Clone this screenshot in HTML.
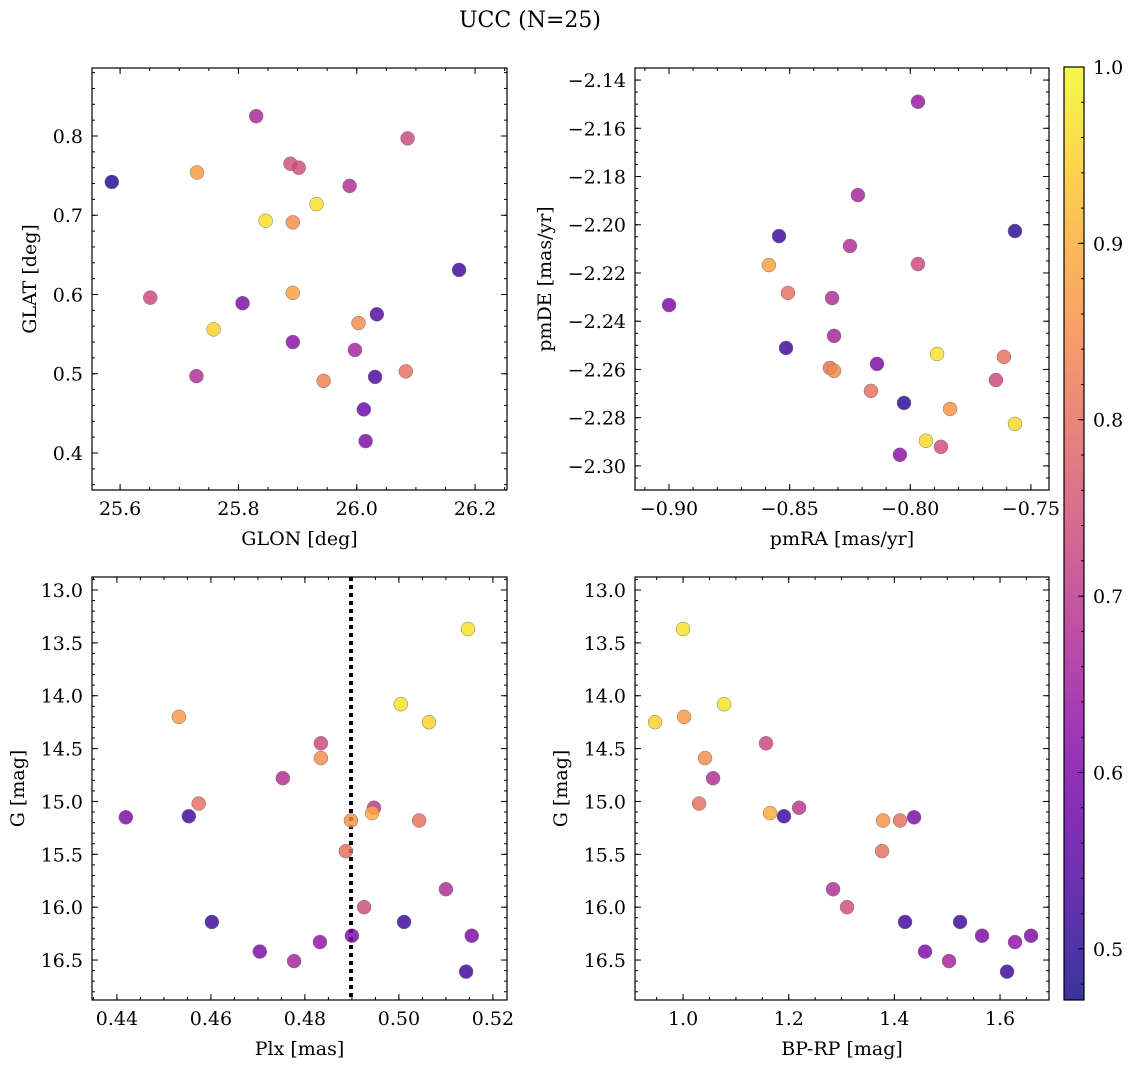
<!DOCTYPE html>
<html><head><meta charset="utf-8">
<style>
body{margin:0;background:#fff;}
svg{display:block;font-family:"DejaVu Serif","Liberation Serif",serif;}
</style></head>
<body>
<svg id="fig" width="1136" height="1067" viewBox="0 0 1136 1067" xmlns="http://www.w3.org/2000/svg">
<text x="530" y="27" font-size="22" text-anchor="middle">UCC (N=25)</text>
</svg>
<script>
// Panel 1: GLON / GLAT
const p1x=[25.830,26.086,25.888,25.902,25.730,25.586,25.988,25.932,25.846,25.892,26.173,25.651,25.892,25.807,25.758,26.034,26.003,25.892,25.997,25.729,25.944,26.083,26.031,26.012,26.015];
const p1y=[0.825,0.797,0.765,0.760,0.754,0.742,0.737,0.714,0.693,0.691,0.631,0.596,0.602,0.589,0.556,0.575,0.564,0.540,0.530,0.497,0.491,0.503,0.496,0.455,0.415];
const p1c=[0.67,0.73,0.75,0.74,0.87,0.49,0.68,0.97,0.97,0.85,0.52,0.73,0.88,0.6,0.95,0.55,0.85,0.62,0.66,0.68,0.83,0.8,0.53,0.58,0.6];
// Panel 2: pmRA / pmDE
const p2x=[-0.7968,-0.8217,-0.8544,-0.7566,-0.8250,-0.8586,-0.7968,-0.8507,-0.8324,-0.9000,-0.8316,-0.8515,-0.7889,-0.7612,-0.8138,-0.8333,-0.8316,-0.7645,-0.8163,-0.8026,-0.7835,-0.7566,-0.7935,-0.8043,-0.7873];
const p2y=[-2.149,-2.1877,-2.2047,-2.2026,-2.2088,-2.2167,-2.2163,-2.2283,-2.2304,-2.2333,-2.2461,-2.2511,-2.2536,-2.2548,-2.2577,-2.2594,-2.2606,-2.2644,-2.2689,-2.2739,-2.2764,-2.2826,-2.2896,-2.2954,-2.2921];
const p2c=[0.64,0.66,0.52,0.5,0.68,0.88,0.73,0.8,0.68,0.6,0.66,0.52,0.97,0.8,0.6,0.8,0.85,0.73,0.8,0.5,0.86,0.96,0.96,0.62,0.74];
// Panel 3: Plx / G
const p3x=[0.5147,0.4532,0.5004,0.5064,0.4834,0.4834,0.4753,0.4574,0.4947,0.4419,0.4553,0.4943,0.4898,0.5043,0.4887,0.5100,0.4926,0.4602,0.5011,0.5155,0.4900,0.4832,0.4704,0.4777,0.5143];
const p3y=[13.369,14.20,14.08,14.25,14.45,14.59,14.78,15.02,15.06,15.15,15.14,15.11,15.18,15.18,15.47,15.83,16.00,16.14,16.14,16.27,16.27,16.33,16.42,16.51,16.61];
const p3c=[0.97,0.87,0.97,0.95,0.73,0.85,0.68,0.8,0.7,0.6,0.52,0.9,0.86,0.8,0.8,0.68,0.74,0.52,0.52,0.6,0.6,0.63,0.6,0.66,0.52];
const plxLine=0.4898;
// Panel 4: BP-RP / G
const p4x=[1.0,0.947,1.002,1.0776,1.0416,1.157,1.0568,1.0303,1.1647,1.191,1.2196,1.3786,1.4108,1.4373,1.3767,1.2839,1.3104,1.4202,1.5243,1.566,1.6587,1.6284,1.458,1.5035,1.6133];
const p4y=[13.369,14.25,14.20,14.08,14.59,14.45,14.78,15.02,15.11,15.14,15.06,15.18,15.18,15.15,15.47,15.83,16.00,16.14,16.14,16.27,16.27,16.33,16.42,16.51,16.61];
const p4c=[0.97,0.95,0.87,0.97,0.85,0.73,0.68,0.8,0.9,0.52,0.7,0.86,0.8,0.6,0.8,0.68,0.74,0.52,0.52,0.6,0.6,0.63,0.6,0.66,0.52];
const cbTicks=[0.5,0.6,0.7,0.8,0.9,1.0];

const NS="http://www.w3.org/2000/svg";
const svg=document.getElementById('fig');
const FS=19;
function mk(tag,attrs,parent){const e=document.createElementNS(NS,tag);for(const k in attrs)e.setAttribute(k,attrs[k]);(parent||svg).appendChild(e);return e;}
const stops=[[13,8,135],[65,4,157],[106,0,168],[143,13,164],[177,42,144],[204,71,120],[225,100,98],[242,132,75],[252,166,54],[252,206,37],[240,249,33]];
const CMIN=0.471,CMAX=1.0;
function cmap(v){let t=(v-CMIN)/(CMAX-CMIN);t=Math.max(0,Math.min(1,t));const f=t*10,i=Math.min(9,Math.floor(f)),r=f-i;const a=stops[i],b=stops[i+1];return `rgb(${Math.round(a[0]+(b[0]-a[0])*r)},${Math.round(a[1]+(b[1]-a[1])*r)},${Math.round(a[2]+(b[2]-a[2])*r)})`;}
function fmt(v,d){let s=v.toFixed(d);if(v<0)s='\u2212'+(-v).toFixed(d);return s;}

function panel(o){
  const g=mk('g',{});
  
  
  const sx=v=>o.L+(v-o.x0)/(o.x1-o.x0)*(o.R-o.L);
  const sy=v=>o.inv? o.T+(v-o.y0)/(o.y1-o.y0)*(o.B-o.T) : o.B-(v-o.y0)/(o.y1-o.y0)*(o.B-o.T);
  const tg=mk('g',{stroke:'#000','stroke-width':1},g);
  for(let v=Math.ceil(o.x0/o.xmi-1e-6)*o.xmi;v<=o.x1+1e-9;v+=o.xmi){const x=sx(v);mk('line',{x1:x,x2:x,y1:o.B,y2:o.B-3},tg);mk('line',{x1:x,x2:x,y1:o.T,y2:o.T+3},tg);}
  for(let v=Math.ceil(o.y0/o.ymi-1e-6)*o.ymi;v<=o.y1+1e-9;v+=o.ymi){const y=sy(v);mk('line',{x1:o.L,x2:o.L+3,y1:y,y2:y},tg);mk('line',{x1:o.R,x2:o.R-3,y1:y,y2:y},tg);}
  o.xt.forEach(v=>{const x=sx(v);mk('line',{x1:x,x2:x,y1:o.B,y2:o.B-6},tg);mk('line',{x1:x,x2:x,y1:o.T,y2:o.T+6},tg);
    const t=mk('text',{x:x,y:o.B+25,'font-size':FS,'text-anchor':'middle'},g);t.textContent=fmt(v,o.xd);
    });
  o.yt.forEach(v=>{const y=sy(v);mk('line',{x1:o.L,x2:o.L+6,y1:y,y2:y},tg);mk('line',{x1:o.R,x2:o.R-6,y1:y,y2:y},tg);
    const t=mk('text',{x:o.L-9,y:y+7,'font-size':FS,'text-anchor':'end'},g);t.textContent=fmt(v,o.yd);
    });
  if(o.vline!==undefined){const l=mk('line',{x1:sx(o.vline),x2:sx(o.vline),y1:o.T,y2:o.B,stroke:'#000','stroke-width':4,'stroke-dasharray':'4,4'},g);
    }
  o.xs.forEach((v,i)=>{const c=mk('circle',{cx:sx(v),cy:sy(o.ys[i]),r:7,fill:cmap(o.cs[i]),'fill-opacity':0.82,stroke:'#777','stroke-width':0.5},g);
    });
  const fr=mk('rect',{x:o.L,y:o.T,width:o.R-o.L,height:o.B-o.T,fill:'none',stroke:'#000','stroke-width':1.2},g);
  
  const xl=mk('text',{x:(o.L+o.R)/2,y:o.B+55,'font-size':FS,'text-anchor':'middle'},g);xl.textContent=o.xl;
  
  const yx=o.ylx, yy=(o.T+o.B)/2;
  const yl=mk('text',{x:yx,y:yy,'font-size':FS,'text-anchor':'middle',transform:`rotate(-90 ${yx} ${yy})`},g);yl.textContent=o.yl;
  
}
panel({name:'glon-glat-panel',L:92,R:507,T:68,B:490,x0:25.5525,x1:26.254,y0:0.3533,y1:0.8858,xt:[25.6,25.8,26.0,26.2],xd:1,yt:[0.4,0.5,0.6,0.7,0.8],yd:1,xmi:0.05,ymi:0.02,xs:p1x,ys:p1y,cs:p1c,xl:'GLON [deg]',yl:'GLAT [deg]',ylx:36});
panel({name:'pm-panel',L:635,R:1049,T:68,B:490,x0:-0.9141,x1:-0.7425,y0:-2.310,y1:-2.135,xt:[-0.90,-0.85,-0.80,-0.75],xd:2,yt:[-2.30,-2.28,-2.26,-2.24,-2.22,-2.20,-2.18,-2.16,-2.14],yd:2,xmi:0.01,ymi:0.005,xs:p2x,ys:p2y,cs:p2c,xl:'pmRA [mas/yr]',yl:'pmDE [mas/yr]',ylx:551});
panel({name:'plx-g-panel',L:92,R:507,T:577,B:1000,x0:0.4347,x1:0.523,y0:12.877,y1:16.878,inv:true,xt:[0.44,0.46,0.48,0.50,0.52],xd:2,yt:[13.0,13.5,14.0,14.5,15.0,15.5,16.0,16.5],yd:1,xmi:0.005,ymi:0.1,xs:p3x,ys:p3y,cs:p3c,xl:'Plx [mas]',yl:'G [mag]',ylx:24,vline:plxLine});
panel({name:'cmd-panel',L:635,R:1049,T:577,B:1000,x0:0.909,x1:1.6927,y0:12.877,y1:16.878,inv:true,xt:[1.0,1.2,1.4,1.6],xd:1,yt:[13.0,13.5,14.0,14.5,15.0,15.5,16.0,16.5],yd:1,xmi:0.05,ymi:0.1,xs:p4x,ys:p4y,cs:p4c,xl:'BP-RP [mag]',yl:'G [mag]',ylx:567});

(function(){
  const L=1064,R=1084,T=67,B=1000;
  const g=mk('g',{});
  
  
  const defs=mk('defs',{},g);
  const lg=mk('linearGradient',{id:'cbg',x1:0,y1:1,x2:0,y2:0},defs);
  for(let i=0;i<=20;i++){const v=CMIN+(CMAX-CMIN)*i/20;mk('stop',{offset:(i/20),'stop-color':cmap(v)},lg);}
  mk('rect',{x:L,y:T,width:R-L,height:B-T,fill:'url(#cbg)','fill-opacity':0.82},g);
  const sy=v=>B-(v-CMIN)/(CMAX-CMIN)*(B-T);
  for(let v=0.48;v<=1.0001;v+=0.02){const y=sy(v);mk('line',{x1:R,x2:R-3,y1:y,y2:y,stroke:'#000'},g);}
  cbTicks.forEach(v=>{const y=sy(v);mk('line',{x1:R,x2:R-6,y1:y,y2:y,stroke:'#000'},g);
    const t=mk('text',{x:R+9,y:y+7,'font-size':FS},g);t.textContent=v.toFixed(1);
    });
  mk('rect',{x:L,y:T,width:R-L,height:B-T,fill:'none',stroke:'#000','stroke-width':1.2},g);
})();
</script>
</body></html>
